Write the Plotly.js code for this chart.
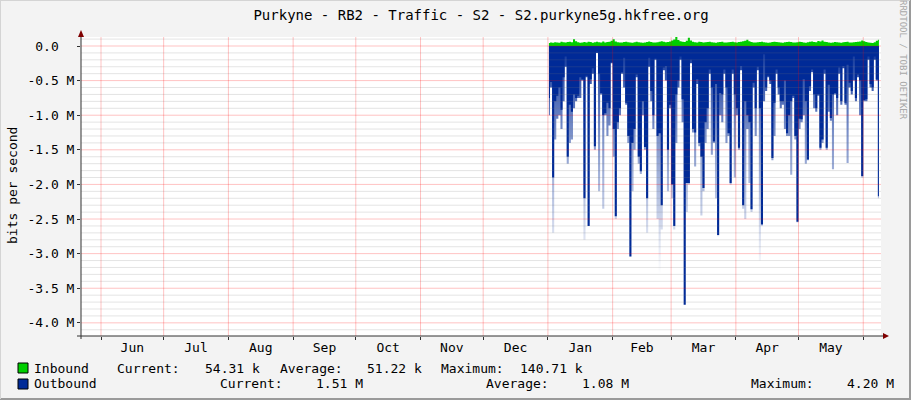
<!DOCTYPE html>
<html>
<head>
<meta charset="utf-8">
<script src="https://cdn.plot.ly/plotly-3.0.1.min.js"></script>
<style>
html,body{margin:0;padding:0;background:#F3F3F3;}
#chart{width:911px;height:400px;}
</style>
</head>
<body>
<div id="chart"></div>
<script>
// ---- data ----
const firstDay = [2015, 0, 1];           // first sample day (Jan 1)
const inboundK = [
 45,52,48,55,50,47,60,53,49,58,
 62,55,97,70,54,48,52,57,50,62,
 58,48,53,60,55,50,64,52,57,61,
 75,97,66,55,52,49,58,60,54,50,
 47,53,62,55,50,48,52,58,65,56,
 51,49,55,60,70,62,55,58,64,80,
 95,135,88,70,62,58,75,120,80,60,
 55,52,60,58,49,53,57,62,55,50,
 48,53,56,60,52,49,55,58,61,54,
 50,57,62,68,75,90,70,58,52,49,
 53,56,60,55,50,48,52,57,63,58,
 54,50,47,53,58,62,56,51,49,55,
 60,57,52,48,53,61,66,58,54,72,
 65,80,62,56,51,48,52,58,55,50,
 47,53,57,60,52,49,55,58,62,66,
 80,70,58,52,48,45,55,75,90];
const outboundM = [
 -0.75,-0.52,-1.9,-0.8,-0.72,-0.6,-0.92,-0.45,-0.15,-1.6,
 -0.85,-0.95,-0.7,-0.75,-0.72,-0.45,-0.48,-2.2,-0.43,-2.6,
 -0.48,-0.32,-1.45,-0.08,-0.4,-0.68,-1.0,-0.97,-0.82,-0.9,
 -0.23,-1.2,-2.46,-1.1,-0.9,-0.38,-0.17,-0.82,-1.3,-3.04,
 -1.4,-1.2,-0.41,-1.6,-1.81,-0.8,-1.46,-2.2,-0.17,-0.65,
 -1.0,-0.18,-1.3,-1.26,-2.3,-0.31,-0.29,-1.5,-0.85,-2.0,
 -2.6,-0.7,-0.5,-0.15,-0.77,-3.74,-1.98,-1.98,-0.2,-1.2,
 -1.25,-0.48,-1.4,-1.6,-2.05,-1.1,-0.9,-0.34,-0.6,-1.38,
 -0.55,-2.73,-0.68,-0.7,-0.34,-0.6,-1.26,-1.98,-0.34,-0.7,
 -0.9,-1.47,-0.29,-2.3,-0.8,-1.0,-1.1,-2.36,-0.53,-0.9,
 -0.3,-0.9,-2.58,-0.12,-0.6,-0.43,-0.5,-1.62,-0.82,-0.34,
 -0.6,-0.8,-0.8,-0.5,-1.26,-1.0,-0.8,-0.72,-1.3,-2.54,
 -1.05,-1.06,-0.48,-0.8,-1.64,-0.58,-0.34,-0.7,-0.9,-0.7,
 -1.47,-1.35,-0.34,-1.47,-0.56,-1.04,-0.7,-0.68,-0.75,-0.31,
 -0.8,-0.29,-0.82,-0.27,-0.53,-0.65,-0.15,-0.75,-0.41,-0.5,
 -1.88,-0.78,-0.77,-0.15,-0.55,-0.6,-0.15,-0.48,-2.17];
const outboundPeakM = [
 -1.0,-0.6,-2.7,-1.35,-1.05,-1.0,-1.2,-0.8,-0.3,-1.7,
 -1.4,-1.35,-0.9,-0.8,-0.75,-0.75,-0.5,-2.8,-0.45,-2.6,
 -0.55,-0.4,-1.5,-0.1,-2.1,-0.7,-2.35,-1.0,-1.3,-1.15,
 -0.25,-1.6,-2.5,-1.2,-1.0,-0.4,-0.6,-0.85,-1.4,-3.05,
 -2.1,-1.5,-0.45,-1.7,-1.85,-1.0,-1.5,-2.7,-0.3,-0.8,
 -1.2,-0.2,-2.5,-4.15,-2.65,-0.35,-0.5,-2.1,-0.9,-2.2,
 -2.65,-1.4,-0.6,-0.2,-1.1,-3.75,-2.4,-2.0,-0.25,-1.25,
 -1.74,-0.55,-1.45,-2.45,-2.1,-1.4,-1.2,-0.4,-1.57,-1.4,
 -2.2,-2.75,-1.0,-1.1,-0.4,-1.4,-1.3,-2.0,-0.4,-1.9,
 -1.0,-1.5,-0.35,-2.35,-2.5,-1.2,-1.98,-2.4,-0.6,-1.3,
 -0.35,-3.1,-2.6,-0.8,-0.65,-0.45,-0.55,-1.65,-1.3,-0.4,
 -0.7,-0.9,-0.85,-1.2,-1.3,-1.3,-1.86,-0.75,-1.35,-2.55,
 -1.2,-1.1,-1.0,-1.7,-1.65,-0.65,-0.38,-0.9,-0.95,-0.72,
 -1.5,-1.4,-0.4,-1.5,-0.95,-1.08,-1.78,-0.7,-1.0,-0.4,
 -0.85,-0.32,-0.85,-1.69,-0.6,-0.7,-0.5,-0.8,-0.45,-1.0,
 -1.9,-0.8,-0.8,-0.2,-0.6,-0.65,-0.2,-0.5,-2.2];
const yTickValsM = [0,-0.5,-1.0,-1.5,-2.0,-2.5,-3.0,-3.5,-4.0];
const yTickText = ['0.0\u00a0\u00a0','-0.5 M','-1.0 M','-1.5 M','-2.0 M','-2.5 M','-3.0 M','-3.5 M','-4.0 M'];
const seriesNames = ['Inbound','Outbound'];
const inboundStats = ['Current:','54.31 k','Average:','51.22 k','Maximum:','140.71 k'];
const outboundStats = ['Current:','1.51 M','Average:','1.08 M','Maximum:','4.20 M'];
const titleText = 'Purkyne - RB2 - Traffic - S2 - S2.purkyne5g.hkfree.org';
const yTitle = 'bits per second';
const sideText = 'RRDTOOL / TOBI OETIKER';

// ---- build ----
function pad(n){return (n<10?'0':'')+n;}
function fmt(d, hh){return d.getUTCFullYear() + '-' + pad(d.getUTCMonth()+1) + '-' + pad(d.getUTCDate()) + hh;}
const days = inboundK.map((_, i) => fmt(new Date(Date.UTC(firstDay[0], firstDay[1], firstDay[2] + i)), ' 12:00'));
const monthStarts = [];
for (let m = 0; m <= 12; m++) monthStarts.push(fmt(new Date(Date.UTC(2014, 5 + m, 1)), ''));

const BLUE = '#002A97', GREEN = '#00CF00';
const MONO = 'DejaVu Sans Mono, monospace';
const MAJOR = 'rgba(255,0,0,0.24)', MINOR = 'rgba(120,120,120,0.2)';
const YMIN = -4.19e6, YMAX = 0.13e6;

const traces = [
  {x: days, y: outboundPeakM.map(v => v*1e6), type:'scatter', mode:'lines',
   line:{width:0, shape:'hvh'}, fill:'tozeroy',
   fillcolor:'rgba(0,42,151,0.35)',
   fillgradient:{type:'vertical', start:-3.3e6, stop:0,
     colorscale:[[0,'rgba(0,42,151,0)'],[0.6,'rgba(0,42,151,0.5)'],[1,'rgba(0,42,151,0.95)']]},
   hoverinfo:'skip', showlegend:false},
  {x: days, y: outboundM.map(v => v*1e6), type:'scatter', mode:'lines',
   line:{width:0, shape:'hvh'}, fill:'tozeroy', fillcolor: BLUE,
   name: seriesNames[1], showlegend:false},
  {x: days, y: inboundK.map(v => v*1e3), type:'scatter', mode:'lines',
   line:{width:0, shape:'hvh'}, fill:'tozeroy', fillcolor: GREEN,
   name: seriesNames[0], showlegend:false}
];

// pixel -> paper helpers (plot area: x 81..881, y 37..336)
const L=81, R=881, T=37, B=336;
const px = x => (x-L)/(R-L);
const py = y => (B-y)/(B-T);

const ann = [];
const font = {family: MONO, size: 13, color:'#000'};
function addText(t, x, y, opts){
  ann.push(Object.assign({text:t, xref:'paper', yref:'paper', x:px(x), y:py(y),
    xanchor:'left', yanchor:'middle', showarrow:false, font:font, borderpad:0}, opts||{}));
}
addText(seriesNames[0], 33, 368);
addText(seriesNames[1], 33, 384);
const row1X = [116, 204, 279, 366, 440, 519];
const row2X = [219, 315, 485, 581, 750, 846];
inboundStats.forEach((t,i)=>addText(t.replace(/ /g,'\u00a0'), row1X[i], 368));
outboundStats.forEach((t,i)=>addText(t.replace(/ /g,'\u00a0'), row2X[i], 384));
addText(yTitle, 12, 186, {xanchor:'center', textangle:-90});
addText(sideText, 903, 60, {xanchor:'center', textangle:90, font:{family:MONO, size:9, color:'#A8A8A8'}});

const shapes = [];
// grid drawn over the data, as rrdtool does
for (let v = 1; v >= -41; v--) {
  const y = v * 1e5;
  if (y < YMIN || y > YMAX) continue;
  const major = (v % 5 === 0);
  shapes.push({type:'line', layer:'above', xref:'paper', yref:'y', x0:0, x1:1, y0:y, y1:y,
    line:{color: major ? MAJOR : MINOR, width:1}});
}
monthStarts.forEach(d => shapes.push({type:'line', layer:'above', xref:'x', yref:'paper', x0:d, x1:d, y0:0, y1:1,
    line:{color: MAJOR, width:1}}));
shapes.push(
  // legend swatches
  {type:'rect', xref:'paper', yref:'paper', x0:px(18), x1:px(28), y0:py(363), y1:py(373), fillcolor:GREEN, line:{color:'#000', width:1}},
  {type:'rect', xref:'paper', yref:'paper', x0:px(18), x1:px(28), y0:py(379), y1:py(389), fillcolor:BLUE, line:{color:'#000', width:1}},
  // axis lines extending past the plot
  {type:'line', layer:'above', xref:'paper', yref:'paper', x0:px(81), x1:px(81), y0:py(339), y1:py(33), line:{color:'#303030', width:1}},
  {type:'line', layer:'above', xref:'paper', yref:'paper', x0:px(77), x1:px(885), y0:py(336), y1:py(336), line:{color:'#303030', width:1}},
  // arrow heads
  {type:'path', xref:'paper', yref:'paper', path:`M ${px(78)} ${py(37)} L ${px(84)} ${py(37)} L ${px(81)} ${py(30)} Z`, fillcolor:'#7F0000', line:{width:0}},
  {type:'path', xref:'paper', yref:'paper', path:`M ${px(883)} ${py(333)} L ${px(883)} ${py(339)} L ${px(889)} ${py(336)} Z`, fillcolor:'#7F0000', line:{width:0}},
  // frame shading
  {type:'line', xref:'paper', yref:'paper', x0:px(0), x1:px(911), y0:py(399), y1:py(399), line:{color:'#9A9A9A', width:2}},
  {type:'line', xref:'paper', yref:'paper', x0:px(910), x1:px(910), y0:py(0), y1:py(400), line:{color:'#9A9A9A', width:2}},
  {type:'line', xref:'paper', yref:'paper', x0:px(0), x1:px(910), y0:py(0.5), y1:py(0.5), line:{color:'#D4D4D4', width:1}},
  {type:'line', xref:'paper', yref:'paper', x0:px(0.5), x1:px(0.5), y0:py(0), y1:py(399), line:{color:'#D4D4D4', width:1}}
);

const layout = {
  width:911, height:400,
  paper_bgcolor:'#F3F3F3', plot_bgcolor:'#FFFFFF',
  margin:{l:L, r:911-R, t:T, b:400-B, pad:0},
  title:{text:titleText, font:{family:MONO, size:14, color:'#000'}, x:0.5, xref:'paper', xanchor:'center', y:1-15/400, yanchor:'middle'},
  showlegend:false,
  xaxis:{type:'date', range:['2014-05-22 10:00','2015-06-09 12:00'],
    tick0:'2014-06-01', dtick:'M1', tickformat:'%b', ticklabelmode:'period',
    showgrid:false, ticks:'outside', ticklen:3, tickcolor:'#303030', showline:false, zeroline:false,
    ticklabelstandoff:-4,
    tickfont:{family:MONO, size:13, color:'#000'}, fixedrange:true},
  yaxis:{range:[YMIN, YMAX], tickmode:'array', tickvals:yTickValsM.map(v=>v*1e6), ticktext:yTickText,
    showgrid:false, ticks:'outside', ticklen:3, tickcolor:'#303030', showline:false, zeroline:false,
    tickfont:{family:MONO, size:13, color:'#000'}, fixedrange:true},
  annotations: ann,
  shapes: shapes
};

Plotly.newPlot('chart', traces, layout, {staticPlot:true, displayModeBar:false});
</script>
</body>
</html>
